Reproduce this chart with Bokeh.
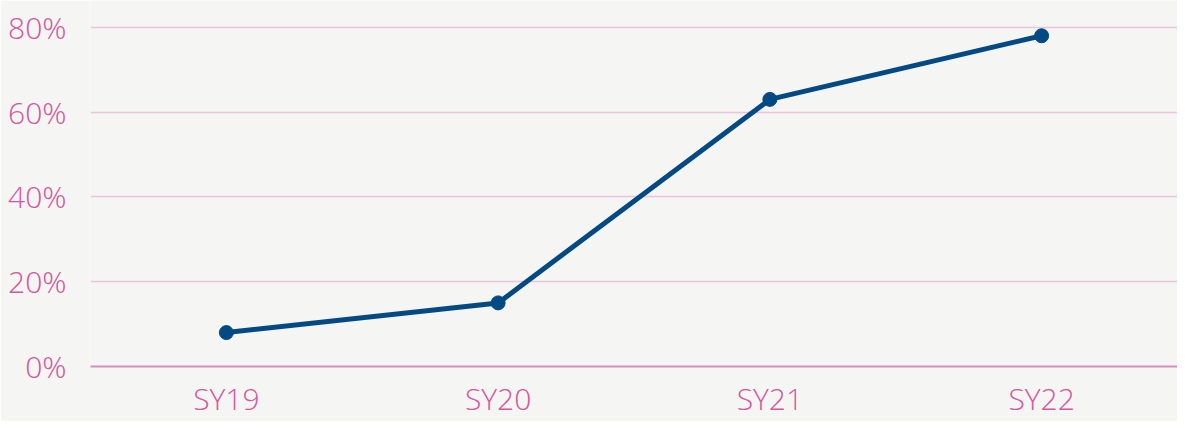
from bokeh.plotting import figure
from bokeh.models import Range1d, FactorRange, NumeralTickFormatter, FixedTicker
from bokeh.embed import file_html
from bokeh.resources import INLINE

categories = ["SY19", "SY20", "SY21", "SY22"]
values = [0.08, 0.15, 0.63, 0.78]
y_ticks = [0.0, 0.2, 0.4, 0.6, 0.8]

PINK = "#d4589e"
BG = "#f5f5f3"

p = figure(x_range=FactorRange(*categories, range_padding=0), y_range=Range1d(0, 0.8632),
           width=1177, height=421, output_backend="svg", toolbar_location=None,
           min_border_left=90, min_border_right=0, min_border_top=0, min_border_bottom=52)
p.background_fill_color = BG
p.border_fill_color = BG
p.outline_line_color = None

p.line(categories, values, line_color="#034a85", line_width=5)
p.scatter(categories, values, size=14, fill_color="#034a85", line_color="#034a85")

p.yaxis.ticker = FixedTicker(ticks=y_ticks)
p.yaxis.formatter = NumeralTickFormatter(format="0%")
for ax in (p.xaxis[0], p.yaxis[0]):
    ax.major_tick_line_color = None
    ax.minor_tick_line_color = None
    ax.major_tick_out = 0
    ax.major_tick_in = 0
    ax.major_label_text_color = PINK
    ax.major_label_text_font = "Open Sans Light, Open Sans"
    ax.major_label_text_font_size = "30px"
p.yaxis.axis_line_color = None
p.yaxis.major_label_standoff = 24
p.xaxis.axis_line_color = "#d98cbf"
p.xaxis.axis_line_width = 2
p.xaxis.major_label_standoff = 11

p.xgrid.grid_line_color = None
p.ygrid.grid_line_color = "#ebc3df"
p.ygrid.grid_line_width = 1.5

open("out.html", "w").write(file_html(p, INLINE))
